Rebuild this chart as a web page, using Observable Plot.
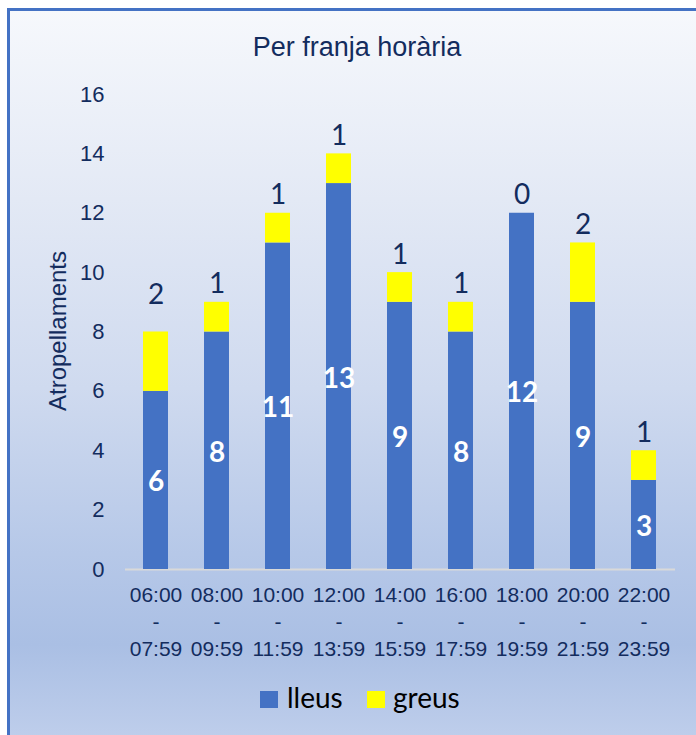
<!DOCTYPE html>
<html>
<head>
<meta charset="utf-8">
<script src="https://cdn.jsdelivr.net/npm/d3@7"></script>
<script src="https://cdn.jsdelivr.net/npm/@observablehq/plot@0.6"></script>
<style>
  html, body { margin: 0; padding: 0; width: 696px; height: 735px; overflow: hidden; background: #ffffff; }
  #frame {
    position: absolute; left: 7px; top: 8px; width: 720px; height: 760px; box-sizing: border-box;
    border: 3px solid #4472c4; overflow: hidden;
    background: linear-gradient(180deg, #f6f8fc 0%, #e3e9f5 25%, #cfdaef 50%, #b6c8e8 72%, #aabfe4 84%, #c4d2ed 100%);
  }
  #inner { position: absolute; left: -10px; top: -11px; width: 696px; height: 735px; }
  #title {
    position: absolute; left: 0; top: 34px; width: 714px; text-align: center;
    font-family: "Liberation Sans", Arial, sans-serif; font-size: 27px; line-height: 1; color: #132c5e;
  }
  #ylabel {
    position: absolute; left: 58px; top: 331px; transform: translate(-50%, -50%) rotate(-90deg);
    white-space: nowrap; font-family: "Liberation Sans", Arial, sans-serif; font-size: 24px; line-height: 1; color: #132c5e;
  }
  #chart { position: absolute; left: 0; top: 0; }
  .sw { position: absolute; width: 18px; height: 17px; top: 691px; }
  .lt { position: absolute; top: 683px; font-family: Lato, "Open Sans", sans-serif; font-size: 28px; line-height: 1; color: #000; }
</style>
</head>
<body>
<div id="frame">
  <div id="inner">
    <div id="chart"></div>
    <div id="title">Per franja horària</div>
    <div id="ylabel">Atropellaments</div>
    <div id="legend"></div>
  </div>
</div>
<script>
// ---- data ----
const slotStart = ["06:00", "08:00", "10:00", "12:00", "14:00", "16:00", "18:00", "20:00", "22:00"];
const slotEnd   = ["07:59", "09:59", "11:59", "13:59", "15:59", "17:59", "19:59", "21:59", "23:59"];
const lleus = [6, 8, 11, 13, 9, 8, 12, 9, 3];
const greus = [2, 1, 1, 1, 1, 1, 0, 2, 1];
const seriesNames = ["lleus", "greus"];
const seriesColors = ["#4472c4", "#ffff00"];
const yTicks = [0, 2, 4, 6, 8, 10, 12, 14, 16];
const leaderLabelSlots = ["06:00"]; // greus label moved up with a leader line

// ---- build table ----
const slots = slotStart.map((s, i) => s + " - " + slotEnd[i]);
const rows = [];
slots.forEach((s, i) => {
  rows.push({slot: s, series: "lleus", value: lleus[i]});
  rows.push({slot: s, series: "greus", value: greus[i]});
});
const totals = slots.map((s, i) => ({slot: s, start: slotStart[i], end: slotEnd[i], lleus: lleus[i], greus: greus[i], total: lleus[i] + greus[i]}));

const navy = "#132c5e";
const sans = "Liberation Sans, Arial, sans-serif";
const calib = "Lato, Open Sans, sans-serif";

// leader line mark (positioned through the plot's scales)
function leaderMark(index, scales) {
  const g = d3.create("svg:g");
  totals.filter(d => leaderLabelSlots.includes(d.start)).forEach(d => {
    const cx = scales.x(d.slot) + scales.x.bandwidth / 2;
    const y = scales.y(d.total);
    g.append("line")
      .attr("x1", cx + 1).attr("y1", y - 1)
      .attr("x2", cx - 3).attr("y2", y - 15)
      .attr("stroke", "#a6a6a6").attr("stroke-width", 1.5);
  });
  return g.node();
}

const plot = Plot.plot({
  width: 696,
  height: 735,
  marginTop: 94,
  marginBottom: 166,
  marginLeft: 125,
  marginRight: 21,
  style: {background: "transparent", overflow: "visible"},
  x: {type: "band", domain: slots, paddingInner: 0.59, paddingOuter: 0.295, axis: null, label: null},
  y: {domain: [0, 16], axis: null, label: null},
  color: {domain: seriesNames, range: seriesColors},
  marks: [
    Plot.ruleY([0], {stroke: "#d9d9d9", strokeWidth: 2}),
    Plot.barY(rows, Plot.stackY({x: "slot", y: "value", fill: "series", order: null})),
    // y tick labels
    Plot.text(yTicks, {
      y: d => d, frameAnchor: "left", textAnchor: "end", dx: -21, text: d => String(d),
      fontSize: 22, fill: navy, fontFamily: sans, lineAnchor: "middle"
    }),
    // x tick labels
    Plot.text(totals, {
      x: "slot", frameAnchor: "bottom", lineAnchor: "top", dy: 13,
      text: d => d.start + "\n-\n" + d.end,
      lineHeight: 1.3, fontSize: 21, fill: navy, fontFamily: sans
    }),
    Plot.text(totals, {
      x: "slot", y: d => d.lleus / 2, text: d => String(d.lleus),
      fill: "#ffffff", fontWeight: "bold", fontSize: 28, fontFamily: calib, lineAnchor: "middle", dy: 2
    }),
    Plot.text(totals.filter(d => !leaderLabelSlots.includes(d.start)), {
      x: "slot", y: "total", text: d => String(d.greus),
      fill: navy, fontSize: 28, fontFamily: calib, lineAnchor: "middle", dy: -18
    }),
    Plot.text(totals.filter(d => leaderLabelSlots.includes(d.start)), {
      x: "slot", y: "total", text: d => String(d.greus),
      fill: navy, fontSize: 28, fontFamily: calib, lineAnchor: "middle", dy: -37
    }),
    leaderMark
  ]
});
document.getElementById("chart").appendChild(plot);

// legend
const legend = document.getElementById("legend");
const legendPos = [{sw: 260, tx: 287}, {sw: 367, tx: 393}];
seriesNames.forEach((name, i) => {
  const sw = document.createElement("div");
  sw.className = "sw"; sw.style.left = legendPos[i].sw + "px"; sw.style.background = seriesColors[i];
  const t = document.createElement("div");
  t.className = "lt"; t.style.left = legendPos[i].tx + "px"; t.textContent = name;
  legend.appendChild(sw); legend.appendChild(t);
});
</script>
</body>
</html>
